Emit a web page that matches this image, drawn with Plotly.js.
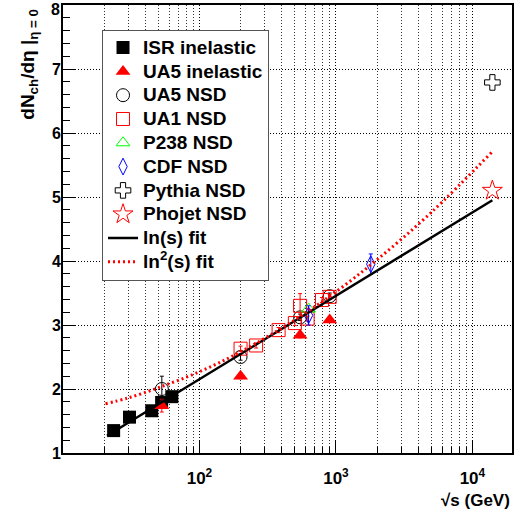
<!DOCTYPE html>
<html><head><meta charset="utf-8">
<script src="https://cdn.plot.ly/plotly-3.0.1.min.js"></script>
<style>body{margin:0;background:#fff}</style>
</head><body><div id="chart" style="width:520px;height:510px"></div>
<script>
// data
const isrX=[23.5,30.7,44.7,52.8,62.7];
const isrY=[1.35,1.56,1.66,1.79,1.88];
const ua5InelX=[53,200,546,900];
const ua5InelY=[1.74,2.20,2.84,3.08];
const ua5InelErr=[0.1,0.04,0.04,0.04];
const ua5NsdX=[53,200,546,900];
const ua5NsdY=[2.0,2.50,3.12,3.45];
const ua5NsdErr=[0.2,0.05,0.05,0.05];
const ua1X=[200,260,380,500,546,620,790,900];
const ua1Y=[2.63,2.68,2.92,3.03,3.30,3.10,3.39,3.44];
const ua1Err=[0.04,0.04,0.04,0.04,0.19,0.04,0.04,0.04];
const p238X=[630];
const p238Y=[3.25];
const cdfX=[630,1800];
const cdfY=[3.15,3.95];
const cdfErr=[0.15,0.16];
const pythiaX=[14000];
const pythiaY=[6.79];
const phojetX=[14000];
const phojetY=[5.10];
const lnFitX=[21,14000];
const lnFitY=[1.27,4.95];
const ln2FitX=[20.5,30,50,100,200,500,1000,2000,5000,14000];
const ln2FitY=[1.77,1.86,2.02,2.27,2.58,3.08,3.52,4.02,4.76,5.71];
const seriesNames=['ISR inelastic','UA5 inelastic','UA5 NSD','UA1 NSD','P238 NSD','CDF NSD','Pythia NSD','Phojet NSD','ln(s) fit','ln<sup>2</sup>(s) fit'];
const xMajor=[100,1000,10000];
const xMajorText=['10<sup>2</sup>','10<sup>3</sup>','10<sup>4</sup>'];
const yMajor=[1,2,3,4,5,6,7,8];
const yMajorText=['1','2','3','4','5','6','7',''];
const yTopLabel='8';

const xMinor=[];
[10,100,1000].forEach(d=>{for(let k=2;k<=9;k++){xMinor.push(k*d);}});

const F='Liberation Sans, Arial, Helvetica, sans-serif';
function eb(arr,color){return {type:'data',array:arr,visible:true,color:color,thickness:1,width:2};}
function nm(i){return '<span style="font-size:19px">'+seriesNames[i]+'</span>';}

const traces=[
 {x:isrX,y:isrY,name:nm(0),mode:'markers',type:'scatter',
  marker:{symbol:'square',size:13,color:'#000'}},
 {x:ua5InelX,y:ua5InelY,name:nm(1),mode:'markers',type:'scatter',error_y:eb(ua5InelErr,'#f00'),
  marker:{symbol:'triangle-up',size:13,color:'#f00'}},
 {x:ua5NsdX,y:ua5NsdY,name:nm(2),mode:'markers',type:'scatter',error_y:eb(ua5NsdErr,'#000'),
  marker:{symbol:'circle-open',size:13,color:'#000',line:{width:1}}},
 {x:ua1X,y:ua1Y,name:nm(3),mode:'markers',type:'scatter',error_y:eb(ua1Err,'#f00'),
  marker:{symbol:'square-open',size:13,color:'#f00',line:{width:1}}},
 {x:p238X,y:p238Y,name:nm(4),mode:'markers',type:'scatter',
  marker:{symbol:'triangle-up-open',size:12,color:'#00ff00',line:{width:1}}},
 {x:cdfX,y:cdfY,name:nm(5),mode:'markers',type:'scatter',error_y:eb(cdfErr,'#00f'),
  marker:{symbol:'diamond-tall-open',size:12,color:'#00f',line:{width:1}}},
 {x:pythiaX,y:pythiaY,name:nm(6),mode:'markers',type:'scatter',
  marker:{symbol:'cross-open',size:13,color:'#000',line:{width:1}}},
 {x:phojetX,y:phojetY,name:nm(7),mode:'markers',type:'scatter',
  marker:{symbol:'star-open',size:15,color:'#f00',line:{width:1}}},
 {x:lnFitX,y:lnFitY,name:nm(8),mode:'lines',type:'scatter',
  line:{color:'#000',width:2.5}},
 {x:ln2FitX,y:ln2FitY,name:nm(9),mode:'lines',type:'scatter',
  line:{color:'#f00',width:3,dash:'2px,3px',shape:'spline'}}
];

const layout={
 width:520,height:510,
 margin:{l:63,r:8,t:5,b:57},
 paper_bgcolor:'#fff',plot_bgcolor:'#fff',
 font:{family:F,color:'#000',size:17,weight:'bold'},
 showlegend:true,
 legend:{x:0.0869,y:0.9449,xanchor:'left',yanchor:'top',bgcolor:'#fff',
   bordercolor:'#555',borderwidth:1,font:{family:F,size:16,weight:'bold',color:'#000'},
   tracegroupgap:0},
 xaxis:{type:'log',range:[1,4.29],showline:true,mirror:true,linecolor:'#000',linewidth:2,
   tickmode:'array',tickvals:xMajor,ticktext:xMajorText,ticks:'inside',ticklen:13,tickwidth:1,tickcolor:'#000',
   showgrid:true,gridcolor:'#000',gridwidth:1,griddash:'1px,2px',zeroline:false,
   tickfont:{family:F,size:17,weight:'bold'},ticklabelstandoff:9,
   minor:{tickmode:'array',tickvals:xMinor,ticks:'inside',ticklen:6,tickwidth:1,tickcolor:'#000',
     showgrid:true,gridcolor:'#333',gridwidth:1,griddash:'1px,2px'}},
 yaxis:{range:[1,8],tickmode:'array',tickvals:yMajor,ticktext:yMajorText,showline:true,mirror:true,linecolor:'#000',linewidth:2,
   ticks:'inside',ticklen:13,tickwidth:1,tickcolor:'#000',ticklabeloverflow:'allow',
   showgrid:true,gridcolor:'#000',gridwidth:1,griddash:'1px,2px',zeroline:false,
   tickfont:{family:F,size:16,weight:'bold'},ticklabelstandoff:-3,
   minor:{dtick:0.2,tick0:0,ticks:'inside',ticklen:7,tickwidth:1,tickcolor:'#000',showgrid:false}},
 annotations:[
  {xref:'paper',yref:'paper',x:-0.004,y:1.0105,xanchor:'right',yanchor:'top',showarrow:false,
   borderpad:0,text:yTopLabel,font:{family:F,size:16,weight:'bold',color:'#000'}},
  {xref:'paper',yref:'paper',x:-0.076,y:0.997,xanchor:'center',yanchor:'top',textangle:-90,showarrow:false,
   text:'dN<sub>ch</sub>/dη |<sub>η = 0</sub>',font:{family:F,size:19,weight:'bold',color:'#000'}},
  {xref:'paper',yref:'paper',x:1.0,y:-0.107,xanchor:'right',yanchor:'middle',showarrow:false,
   text:'√s (GeV)',font:{family:F,size:17,weight:'bold',color:'#000'}}
 ]
};
Plotly.newPlot('chart',traces,layout,{staticPlot:true,displayModeBar:false});
</script></body></html>
